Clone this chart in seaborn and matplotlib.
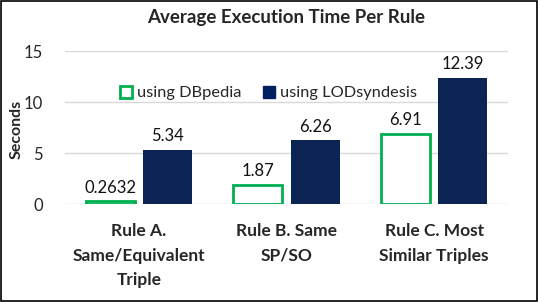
import matplotlib
matplotlib.use("Agg")
import matplotlib.pyplot as plt
import seaborn as sns
import pandas as pd
from matplotlib.patches import Rectangle

rules = ["Rule A.\nSame/Equivalent\nTriple", "Rule B. Same\nSP/SO", "Rule C. Most\nSimilar Triples"]
series = ["using DBpedia", "using LODsyndesis"]
dbpedia_times = [0.2632, 1.87, 6.91]
lodsyndesis_times = [5.34, 6.26, 12.39]
value_labels = [["0.2632", "1.87", "6.91"], ["5.34", "6.26", "12.39"]]
y_ticks = [0, 5, 10, 15]

green = "#00B050"
navy = "#002060"

df = pd.DataFrame({
    "rule": rules * 2,
    "series": [series[0]] * 3 + [series[1]] * 3,
    "seconds": dbpedia_times + lodsyndesis_times,
})

sns.set_theme(style="white")
plt.rcParams["font.family"] = ["Lato", "DejaVu Sans"]

fig = plt.figure(figsize=(5.38, 3.02), dpi=100)
ax = fig.add_axes([0.121, 0.3245, 0.823, 0.5066])

sns.barplot(data=df, x="rule", y="seconds", hue="series", order=rules,
            hue_order=series, palette=[green, navy], width=0.78, gap=0.15,
            ax=ax, legend=False)

# DBpedia bars: white fill, green outline
for bar in ax.containers[0]:
    bar.set_facecolor("white")
    bar.set_edgecolor(green)
    bar.set_linewidth(2.0)
for bar in ax.containers[1]:
    bar.set_edgecolor(navy)
    bar.set_linewidth(0)

for cont, labels in zip(ax.containers, value_labels):
    ax.bar_label(cont, labels=labels, padding=4, fontsize=12, color="#111111")

ax.set_ylim(0, 15)
ax.set_yticks(y_ticks)
ax.tick_params(axis="y", labelsize=12, length=0, pad=16)
ax.tick_params(axis="x", length=0, pad=14)
for lab in ax.get_xticklabels():
    lab.set_fontweight("bold")
    lab.set_fontsize(12.5)
    lab.set_linespacing(1.65)
ax.yaxis.grid(True, color="#D9D9D9", linewidth=1)
ax.set_axisbelow(True)
for s in ax.spines.values():
    s.set_visible(False)

ax.set_xlabel("")
ax.set_ylabel("")
fig.text(17 / 538, 1 - 129 / 302, "Seconds", rotation=90, ha="center", va="center",
         fontsize=11.5, fontweight="bold")
ax.set_title("Average Execution Time Per Rule", fontsize=13.5, fontweight="bold", pad=20)

handles = [Rectangle((0, 0), 1, 1, facecolor="white", edgecolor=green, linewidth=2),
           Rectangle((0, 0), 1, 1, facecolor=navy, edgecolor=navy)]
ax.legend(handles, series, ncol=2, loc="center", bbox_to_anchor=(0.46, 0.725),
          frameon=False, fontsize=11.8, handlelength=0.75, handleheight=0.75,
          handletextpad=0.3, columnspacing=1.3, borderaxespad=0)

fig.patches.append(Rectangle((0.001, 0.002), 0.997, 0.995, transform=fig.transFigure,
                             fill=False, edgecolor="black", linewidth=1.2))

fig.savefig("out.png", dpi=100)
